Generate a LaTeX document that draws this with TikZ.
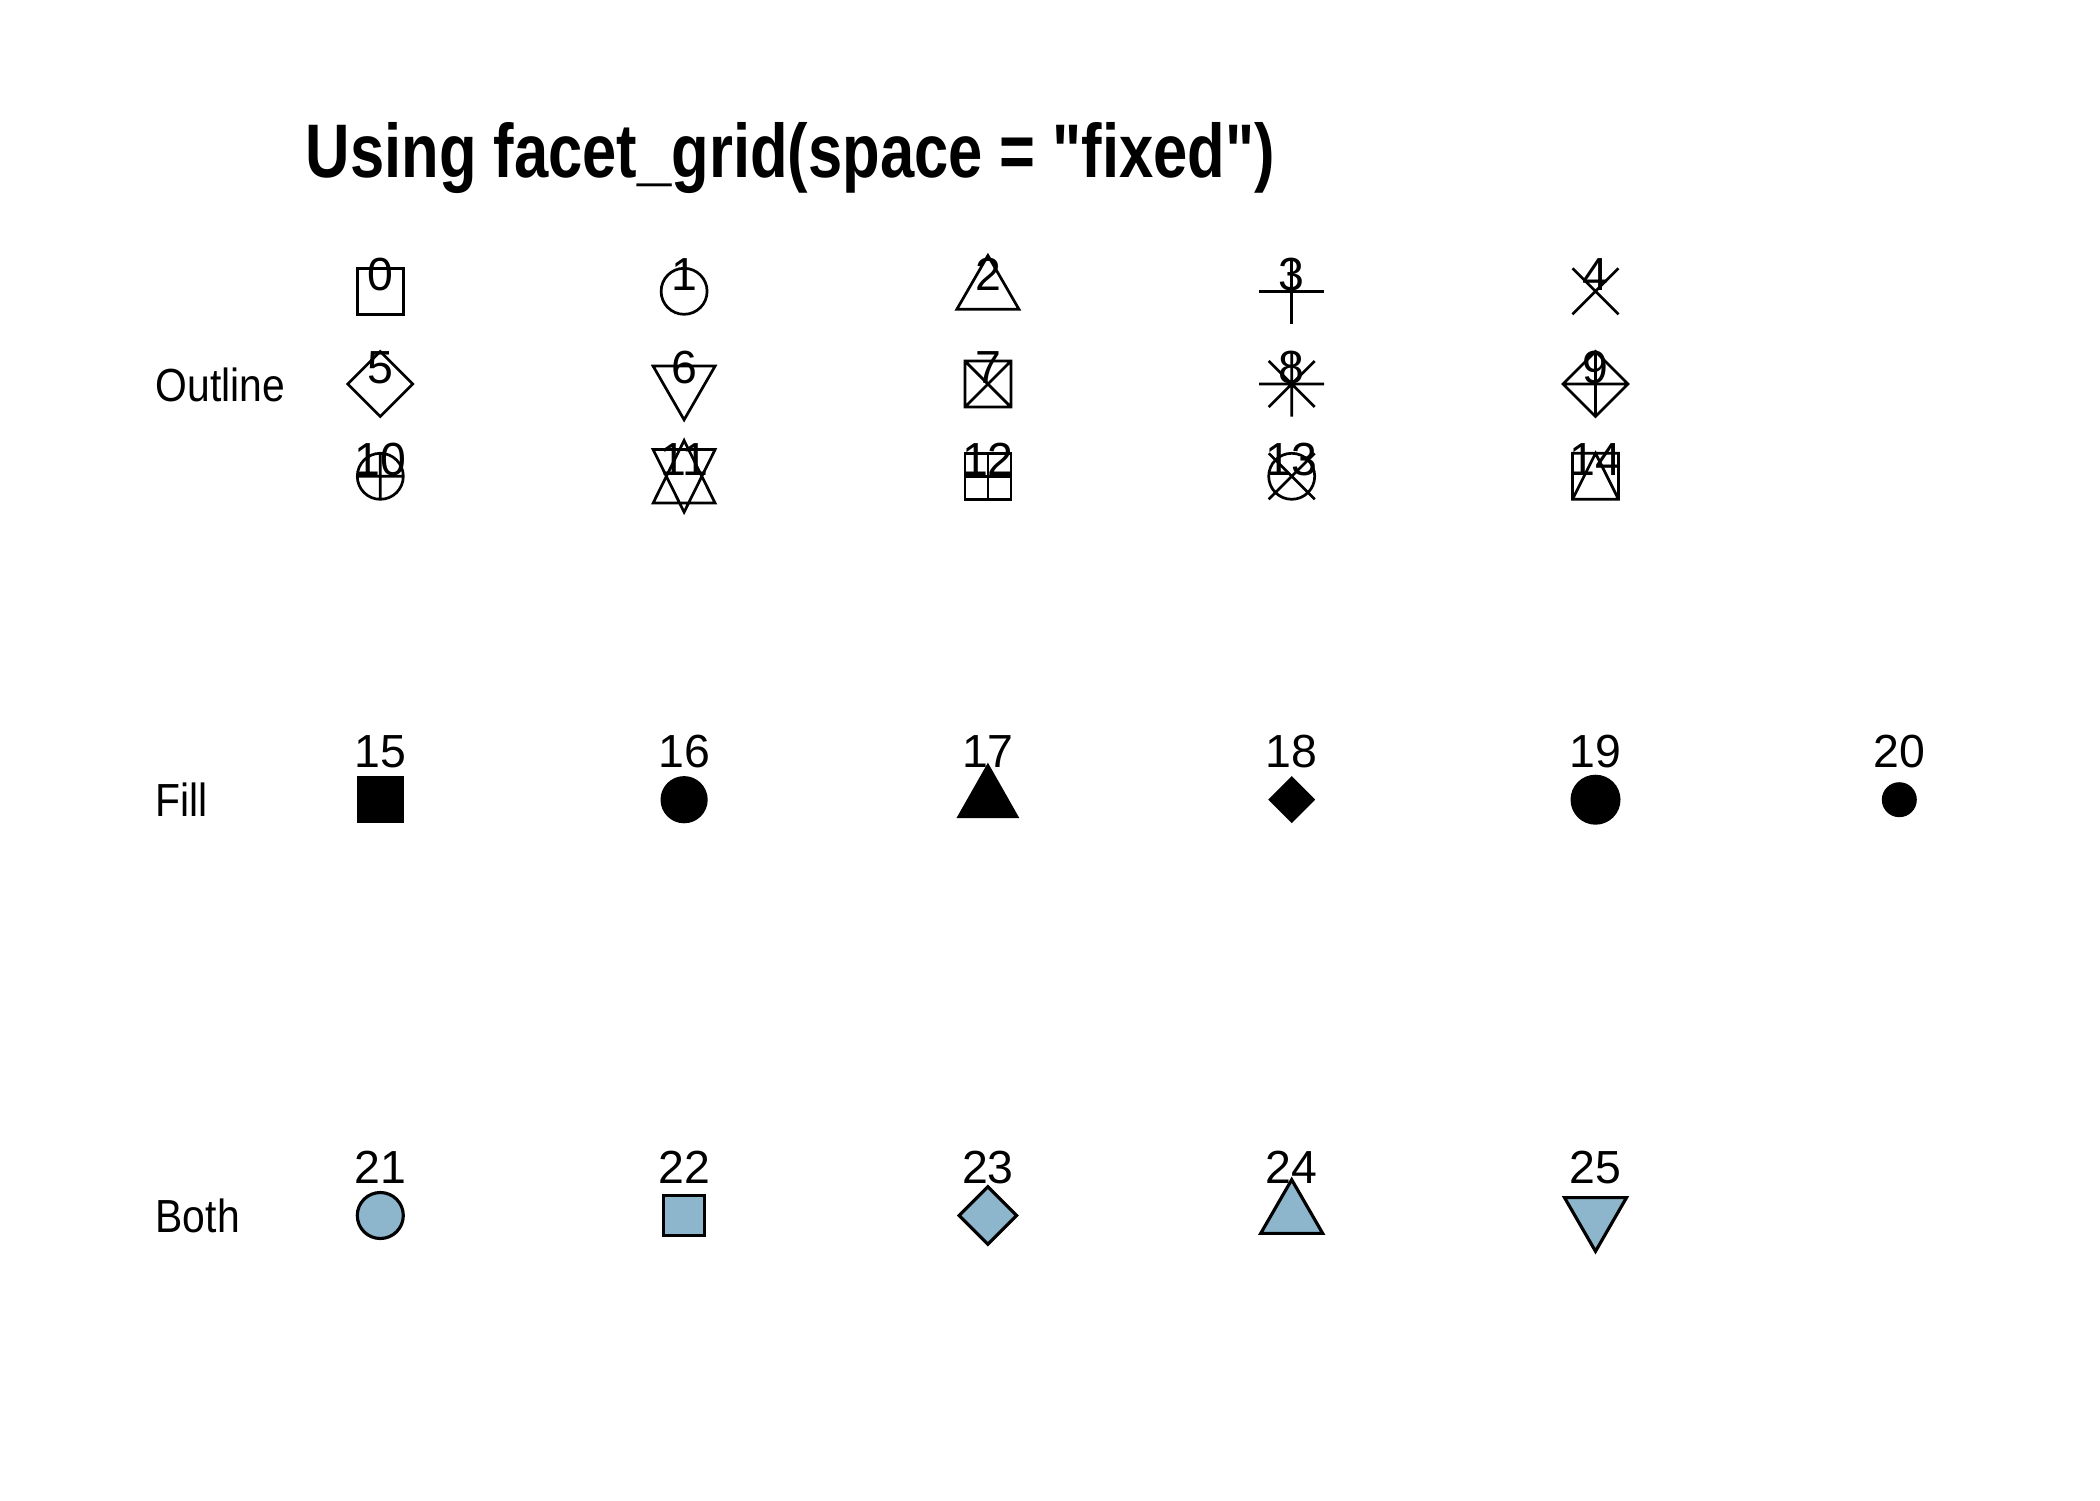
\documentclass[tikz,border=0pt]{standalone}
\usepackage{fontspec}
\newfontfamily\labfont{Liberation Sans}
\newfontfamily\stripfont[FakeStretch=0.88]{Liberation Sans}
\newfontfamily\ttlfont[FakeStretch=0.81,Ligatures=TeXOff]{Liberation Sans}
\definecolor{bothfill}{HTML}{8DB6CD}
\tikzset{
  sym/.style={line width=0.77pt, line join=miter, draw=black},
  bsym/.style={line width=0.9pt, line join=miter, draw=black, fill=bothfill},
  lab/.style={inner sep=0pt, anchor=base, font=\labfont\fontsize{13.2pt}{15pt}\selectfont},
  striplab/.style={inner sep=0pt, anchor=base west, font=\stripfont\fontsize{13.2pt}{15pt}\selectfont},
  pch0/.pic={\draw[sym] (-23,-23) rectangle (23,23);},
  pch1/.pic={\draw[sym] (0,0) circle[radius=23];},
  pch2/.pic={\draw[sym] (0,-35.8) -- (31,17.9) -- (-31,17.9) -- cycle;},
  pch3/.pic={\draw[sym] (-32.5,0) -- (32.5,0) (0,-32.5) -- (0,32.5);},
  pch4/.pic={\draw[sym] (-23,-23) -- (23,23) (-23,23) -- (23,-23);},
  pch5/.pic={\draw[sym] (-32.5,0) -- (0,-32.5) -- (32.5,0) -- (0,32.5) -- cycle;},
  pch6/.pic={\draw[sym] (0,35.8) -- (31,-17.9) -- (-31,-17.9) -- cycle;},
  pch7/.pic={\draw[sym] (-23,-23) rectangle (23,23) (-23,-23) -- (23,23) (-23,23) -- (23,-23);},
  pch8/.pic={\draw[sym] (-23,-23) -- (23,23) (-23,23) -- (23,-23) (-32.5,0) -- (32.5,0) (0,-32.5) -- (0,32.5);},
  pch9/.pic={\draw[sym] (-32.5,0) -- (0,-32.5) -- (32.5,0) -- (0,32.5) -- cycle (-32.5,0) -- (32.5,0) (0,-32.5) -- (0,32.5);},
  pch10/.pic={\draw[sym] (0,0) circle[radius=23] (-23,0) -- (23,0) (0,-23) -- (0,23);},
  pch11/.pic={\draw[sym] (0,-35.8) -- (31,26.8) -- (-31,26.8) -- cycle (0,35.8) -- (31,-26.8) -- (-31,-26.8) -- cycle;},
  pch12/.pic={\draw[sym] (-23,-23) rectangle (23,23) (-23,0) -- (23,0) (0,-23) -- (0,23);},
  pch13/.pic={\draw[sym] (0,0) circle[radius=23] (-23,-23) -- (23,23) (-23,23) -- (23,-23);},
  pch14/.pic={\draw[sym] (-23,-23) rectangle (23,23) (-23,23) -- (0,-23) -- (23,23);},
  pch15/.pic={\fill (-23.5,-23.5) rectangle (23.5,23.5);},
  pch16/.pic={\fill (0,0) circle[radius=23.6];},
  pch17/.pic={\fill (0,-37) -- (31.5,18.5) -- (-31.5,18.5) -- cycle;},
  pch18/.pic={\fill (-23.5,0) -- (0,-23.5) -- (23.5,0) -- (0,23.5) -- cycle;},
  pch19/.pic={\fill (0,0) circle[radius=25];},
  pch20/.pic={\fill (0,0) circle[radius=17.5];},
  pch21/.pic={\draw[bsym] (0,0) circle[radius=23];},
  pch22/.pic={\draw[bsym] (-20.4,-20.4) rectangle (20.4,20.4);},
  pch23/.pic={\draw[bsym] (-28.8,0) -- (0,-28.8) -- (28.8,0) -- (0,28.8) -- cycle;},
  pch24/.pic={\draw[bsym] (0,-35.8) -- (31,17.9) -- (-31,17.9) -- cycle;},
  pch25/.pic={\draw[bsym] (0,35.8) -- (31,-17.9) -- (-31,-17.9) -- cycle;},
}
\begin{document}
\begin{tikzpicture}[x=0.01cm,y=-0.01cm]
\useasboundingbox[fill=white] (0,0) rectangle (2100,1500);
% title
\node[inner sep=0pt, anchor=base west, font=\ttlfont\bfseries\fontsize{21.6pt}{24pt}\selectfont] (title) at (305,178) {Using facet\_grid(space = "fixed")};
% strip labels
\node[striplab] (sOutline) at (155,401) {Outline};
\node[striplab] (sFill) at (155,816.5) {Fill};
\node[striplab] (sBoth) at (155,1232.5) {Both};
% outline symbols
\foreach \n/\x/\y in {0/380.3/291.3, 1/684.1/291.3, 2/987.9/291.3, 3/1291.7/291.3, 4/1595.5/291.3,
                      5/380.3/384, 6/684.1/384, 7/987.9/384, 8/1291.7/384, 9/1595.5/384,
                      10/380.3/476.3, 11/684.1/476.3, 12/987.9/476.3, 13/1291.7/476.3, 14/1595.5/476.3}{
  \pic at (\x,\y) {pch\n};
  \node[lab] (l\n) at (\x,\y-1) {\n};
}
% fill symbols
\foreach \n/\x in {15/380.3, 16/684.1, 17/987.9, 18/1291.7, 19/1595.5, 20/1899.3}{
  \pic at (\x,799.7) {pch\n};
  \node[lab] (l\n) at (\x,767) {\n};
}
% both symbols
\foreach \n/\x in {21/380.3, 22/684.1, 23/987.9, 24/1291.7, 25/1595.5}{
  \pic at (\x,1215.5) {pch\n};
  \node[lab] (l\n) at (\x,1183.3) {\n};
}
\end{tikzpicture}
\end{document}
